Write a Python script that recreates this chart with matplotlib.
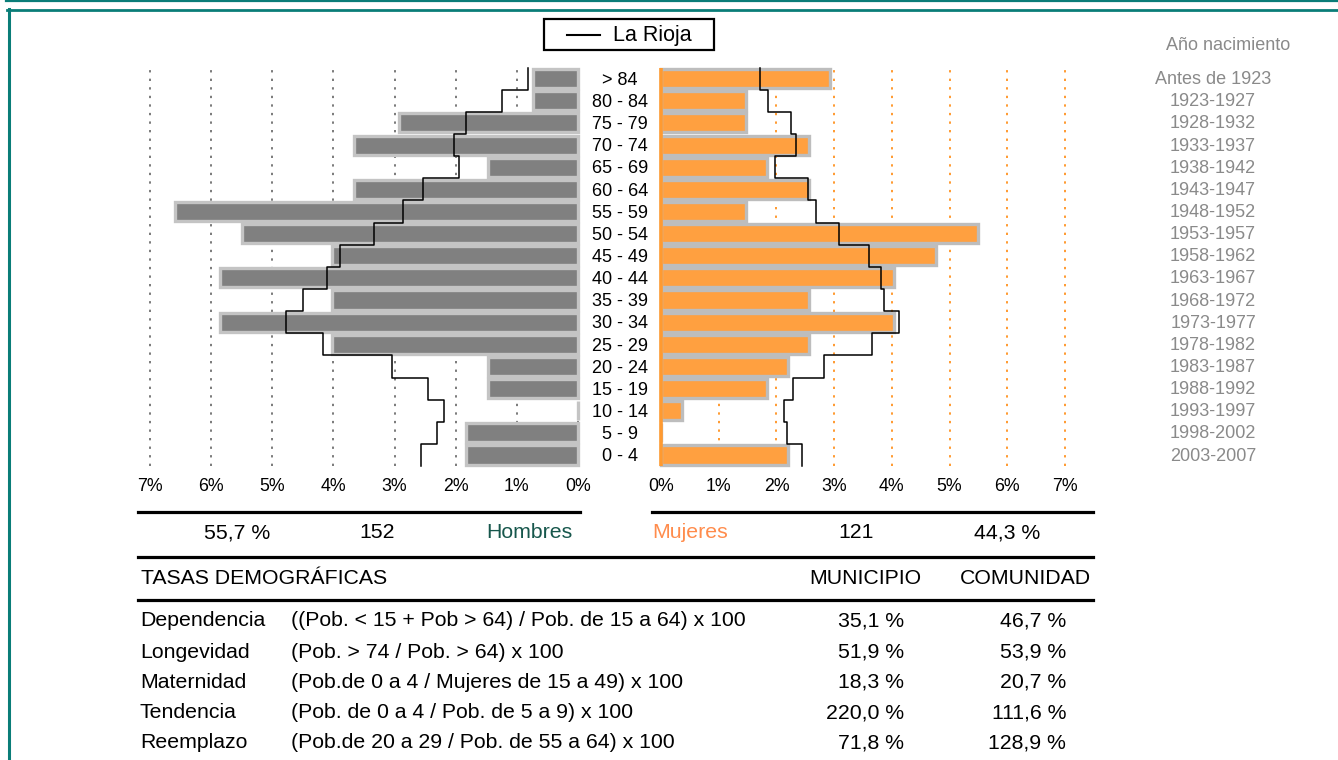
import matplotlib
matplotlib.use("Agg")
import matplotlib.pyplot as plt
import numpy as np
from matplotlib.lines import Line2D
from matplotlib.patches import Rectangle
from matplotlib.transforms import blended_transform_factory

plt.rcParams["font.family"] = ["Liberation Sans", "DejaVu Sans"]

# age groups, bottom to top
ages = ["0 - 4", "5 - 9", "10 - 14", "15 - 19", "20 - 24", "25 - 29", "30 - 34",
        "35 - 39", "40 - 44", "45 - 49", "50 - 54", "55 - 59", "60 - 64",
        "65 - 69", "70 - 74", "75 - 79", "80 - 84", "> 84"]
birth_years = ["2003-2007", "1998-2002", "1993-1997", "1988-1992", "1983-1987",
               "1978-1982", "1973-1977", "1968-1972", "1963-1967", "1958-1962",
               "1953-1957", "1948-1952", "1943-1947", "1938-1942", "1933-1937",
               "1928-1932", "1923-1927", "Antes de 1923"]

# municipality counts
men = [5, 5, 0, 4, 4, 11, 16, 11, 16, 11, 15, 18, 10, 4, 10, 8, 2, 2]
women = [6, 0, 1, 5, 6, 7, 11, 7, 11, 13, 15, 4, 7, 5, 7, 4, 4, 8]

# La Rioja reference profile (% of total population)
rioja_men = [2.57, 2.30, 2.19, 2.46, 3.04, 4.17, 4.77, 4.50, 4.11, 3.89, 3.33,
             2.86, 2.53, 1.94, 2.03, 1.83, 1.24, 0.81]
rioja_women = [2.45, 2.19, 2.13, 2.29, 2.82, 3.66, 4.12, 3.87, 3.82, 3.61, 3.08,
               2.68, 2.54, 1.98, 2.34, 2.26, 1.86, 1.71]

pct_ticks = [0, 1, 2, 3, 4, 5, 6, 7]

rate_names = ["Dependencia", "Longevidad", "Maternidad", "Tendencia", "Reemplazo"]
rate_formulas = ["((Pob. < 15 + Pob > 64) / Pob. de 15 a 64) x 100",
                 "(Pob. > 74 / Pob. > 64) x 100",
                 "(Pob.de 0 a 4 / Mujeres de 15 a 49) x 100",
                 "(Pob. de 0 a 4 / Pob. de 5 a 9) x 100",
                 "(Pob.de 20 a 29 / Pob. de 55 a 64) x 100"]
rate_municipio = ["35,1 %", "51,9 %", "18,3 %", "220,0 %", "71,8 %"]
rate_comunidad = ["46,7 %", "53,9 %", "20,7 %", "111,6 %", "128,9 %"]

W, H = 1338, 760
TEAL = "#0a7d78"
ORANGE = "#ffa040"
ORANGE_GRID = "#ff9a30"


def fx(p):
    return p / W


def fy(p):
    return 1 - p / H


total = sum(men) + sum(women)
men_pct = np.array(men) / total * 100
women_pct = np.array(women) / total * 100
rows = np.arange(len(ages))

fig = plt.figure(figsize=(W / 100, H / 100), dpi=100)
fig.patch.set_facecolor("white")

ax_m = fig.add_axes([fx(140), fy(475), 448 / W, 415 / H])
ax_f = fig.add_axes([fx(651), fy(475), 424 / W, 415 / H])


def step_profile(values):
    xs = np.repeat(values, 2)
    ys = np.repeat(rows, 2) + np.tile([-0.5, 0.5], len(rows))
    return xs, ys


for ax, pct, ref, fill, edge, grid_c in [
    (ax_m, men_pct, rioja_men, "#808080", "#c4c4c4", "#7a7a7a"),
    (ax_f, women_pct, rioja_women, ORANGE, "#bdbdbd", ORANGE_GRID),
]:
    ax.vlines(pct_ticks, -0.5, 17.5, colors=grid_c, linestyles=(0, (1.2, 3.2)),
              lw=1.4, zorder=1)
    ax.barh(rows, pct, height=0.86, color=fill, edgecolor=edge, lw=2.4, zorder=2)
    xs, ys = step_profile(ref)
    ax.plot(xs, ys, color="black", lw=1.1, zorder=3)
    ax.set_ylim(-0.903, 17.84)
    ax.set_yticks([])
    ax.set_xticks(pct_ticks)
    ax.set_xticklabels([f"{t}%" for t in pct_ticks], fontsize=12.8)
    ax.tick_params(axis="x", length=0, pad=2)
    for s in ax.spines.values():
        s.set_visible(False)
    ax.set_facecolor("none")

ax_m.set_xlim(7.164, -0.164)
ax_f.set_xlim(-0.174, 7.174)
ax_f.vlines(0, -0.5, 17.5, colors=ORANGE_GRID, lw=2.6, zorder=4)

# age labels and birth years
tr = blended_transform_factory(fig.transFigure, ax_m.transData)
for r, lab in enumerate(ages):
    ax_m.text(fx(620), r - 0.08, lab, transform=tr, ha="center", va="center",
              fontsize=13)
for r, lab in enumerate(birth_years):
    ax_m.text(fx(1213), r - 0.05, lab, transform=tr, ha="center", va="center",
              fontsize=13, color="#8a8a8a")
fig.text(fx(1228), fy(45), "Año nacimiento", ha="center", va="center",
         fontsize=13, color="#8a8a8a")

# legend box
fig.add_artist(Rectangle((fx(544), fy(50)), 170 / W, 31 / H, transform=fig.transFigure,
                         facecolor="white", edgecolor="black", lw=1.6))
fig.add_artist(Line2D([fx(567), fx(600)], [fy(35), fy(35)], color="black", lw=1.5))
fig.text(fx(613), fy(35), "La Rioja", ha="left", va="center", fontsize=15.5)

# frame
fig.add_artist(Line2D([fx(6), 1], [fy(0.8), fy(0.8)], color=TEAL, lw=1.6))
fig.add_artist(Line2D([fx(7), 1], [fy(9.5), fy(9.5)], color=TEAL, lw=2.0))
fig.add_artist(Line2D([fx(8.7), fx(8.7)], [fy(8.5), 0], color=TEAL, lw=2.2))

# totals section
fig.add_artist(Line2D([fx(138), fx(580)], [fy(511.5), fy(511.5)], color="black", lw=2.3))
fig.add_artist(Line2D([fx(652), fx(1093)], [fy(511.5), fy(511.5)], color="black", lw=2.3))
fig.add_artist(Line2D([fx(138), fx(1093)], [fy(557), fy(557)], color="black", lw=2.3))
fig.add_artist(Line2D([fx(138), fx(1093)], [fy(600), fy(600)], color="black", lw=2.3))

fs = 15.3
men_share = f"{sum(men) / total * 100:.1f} %".replace(".", ",")
women_share = f"{sum(women) / total * 100:.1f} %".replace(".", ",")
fig.text(fx(237), fy(533), men_share, ha="center", va="center", fontsize=fs)
fig.text(fx(377), fy(533), str(sum(men)), ha="center", va="center", fontsize=fs)
fig.text(fx(572), fy(533), "Hombres", ha="right", va="center", fontsize=fs, color="#17574c")
fig.text(fx(652), fy(533), "Mujeres", ha="left", va="center", fontsize=fs, color="#ff8c4c")
fig.text(fx(856), fy(533), str(sum(women)), ha="center", va="center", fontsize=fs)
fig.text(fx(1007), fy(533), women_share, ha="center", va="center", fontsize=fs)

fig.text(fx(141), fy(579), "TASAS DEMOGRÁFICAS", ha="left", va="center", fontsize=fs)
fig.text(fx(865), fy(579), "MUNICIPIO", ha="center", va="center", fontsize=fs)
fig.text(fx(1025), fy(579), "COMUNIDAD", ha="center", va="center", fontsize=fs)

row_y = [621, 652, 682, 713, 743]
for y, name, formula, mun, com in zip(row_y, rate_names, rate_formulas,
                                      rate_municipio, rate_comunidad):
    fig.text(fx(140), fy(y), name, ha="left", va="center", fontsize=fs)
    fig.text(fx(291), fy(y), formula, ha="left", va="center", fontsize=fs)
    fig.text(fx(904), fy(y), mun, ha="right", va="center", fontsize=fs)
    fig.text(fx(1066), fy(y), com, ha="right", va="center", fontsize=fs)

fig.savefig("out.png", dpi=100)
